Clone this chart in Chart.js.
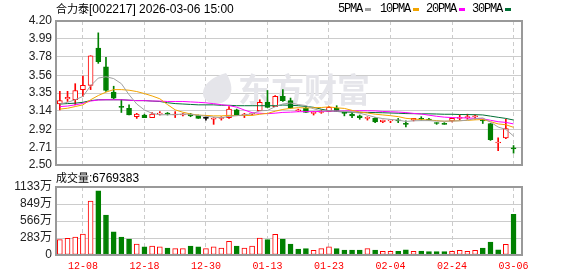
<!DOCTYPE html>
<html>
<head>
<meta charset="utf-8">
<script src="https://cdn.jsdelivr.net/npm/chart.js@4.4.1/dist/chart.umd.min.js"></script>
<style>
  body { margin: 0; width: 578px; height: 276px; background: #fff; position: relative; overflow: hidden; }
  canvas { position: absolute; left: 0; }
  .lbl { position: absolute; white-space: nowrap; color: #000; font-size: 12px; line-height: 14px; }
  .mono { font-family: "Liberation Mono", monospace; letter-spacing: -1.2px; }
  .cjk { font-family: "Noto Sans CJK SC", sans-serif; font-size: 11px; }
  .sans { font-family: "Liberation Sans", Arial, sans-serif; }
  .sw { position: absolute; width: 6px; height: 3px; }
</style>
</head>
<body>
<canvas id="kc" width="578" height="182" style="top:0"></canvas>
<canvas id="vc" width="578" height="111" style="top:165px"></canvas>

<div class="lbl" style="left:56px;top:1px"><span class="cjk">合力泰</span><span class="sans">[002217] 2026-03-06 15:00</span></div>

<div class="lbl mono" style="left:338px;top:2px">5PMA</div>
<div class="sw" style="left:365px;top:8px;background:#a0a0a0"></div>
<div class="lbl mono" style="left:380px;top:2px">10PMA</div>
<div class="sw" style="left:413px;top:8px;background:#f2a400"></div>
<div class="lbl mono" style="left:426px;top:2px">20PMA</div>
<div class="sw" style="left:459px;top:8px;background:#ff00ff"></div>
<div class="lbl mono" style="left:472px;top:2px">30PMA</div>
<div class="sw" style="left:505px;top:8px;background:#006f35"></div>

<div class="lbl" style="left:56px;top:170px"><span class="cjk">成交量</span><span class="sans" id="volTxt"></span></div>

<script>
// trading days shown on the chart
const dates = ['12-03','12-04','12-05','12-08','12-09','12-10','12-11','12-12','12-15','12-16',
  '12-17','12-18','12-19','12-22','12-23','12-24','12-25','12-26','12-29','12-30',
  '12-31','01-05','01-06','01-07','01-08','01-09','01-12','01-13','01-14','01-15',
  '01-16','01-19','01-20','01-21','01-22','01-23','01-26','01-27','01-28','01-29',
  '01-30','02-02','02-03','02-04','02-05','02-06','02-09','02-10','02-11','02-12',
  '02-13','02-24','02-25','02-26','02-27','03-02','03-03','03-04','03-05','03-06'];

const open = [3.22,3.28,3.27,3.39,3.44,3.88,3.66,3.36,3.19,3.17,
  3.07,3.09,3.06,3.10,3.11,3.09,3.09,3.10,3.09,3.05,
  3.04,3.05,3.06,3.15,3.09,3.10,3.14,3.24,3.19,3.31,
  3.26,3.14,3.17,3.11,3.12,3.13,3.17,3.12,3.10,3.08,
  3.05,3.05,3.01,3.02,3.03,2.99,3.03,3.05,3.04,3.00,
  2.99,3.02,3.05,3.06,3.07,3.03,2.99,2.76,2.82,2.70];
const high = [3.37,3.37,3.46,3.55,3.79,4.06,3.77,3.43,3.27,3.21,
  3.11,3.10,3.12,3.13,3.12,3.13,3.11,3.11,3.09,3.07,
  3.06,3.07,3.19,3.16,3.11,3.11,3.27,3.38,3.32,3.39,
  3.29,3.16,3.18,3.13,3.15,3.19,3.20,3.12,3.12,3.09,
  3.07,3.06,3.03,3.03,3.05,3.02,3.05,3.07,3.05,3.00,
  3.00,3.05,3.09,3.10,3.09,3.04,2.99,2.82,3.04,2.73];
const low = [3.15,3.25,3.21,3.31,3.39,3.70,3.37,3.28,3.12,3.09,
  3.05,3.06,3.06,3.09,3.09,3.06,3.08,3.07,3.05,3.03,
  2.98,3.03,3.05,3.09,3.06,3.09,3.14,3.18,3.19,3.25,
  3.17,3.13,3.12,3.09,3.11,3.13,3.13,3.08,3.06,3.04,
  3.03,3.00,3.00,3.00,3.00,2.95,3.02,3.03,3.03,2.98,
  2.98,3.01,3.03,3.04,3.04,2.99,2.79,2.67,2.81,2.64];
const close = [3.26,3.30,3.38,3.44,3.79,3.72,3.38,3.29,3.18,3.09,
  3.10,3.06,3.10,3.11,3.10,3.10,3.10,3.08,3.05,3.05,
  3.05,3.06,3.16,3.09,3.10,3.11,3.24,3.18,3.31,3.26,
  3.17,3.15,3.12,3.12,3.13,3.18,3.13,3.11,3.08,3.06,
  3.06,3.01,3.03,3.03,3.02,2.98,3.05,3.04,3.03,2.99,
  2.98,3.05,3.06,3.07,3.08,3.02,2.80,2.77,2.93,2.69];
const volume = [2550000,2770000,3000000,3500000,9000000,10700000,6660000,3880000,3000000,2660000,
  1830000,1380000,1500000,1380000,1170000,1050000,1050000,1500000,1380000,1050000,
  1380000,1170000,2280000,1500000,1170000,1500000,2830000,2550000,3440000,2660000,
  1830000,1000000,1050000,780000,1050000,1380000,1050000,830000,830000,830000,
  1050000,830000,610000,610000,610000,880000,610000,670000,550000,550000,
  550000,610000,780000,610000,780000,1170000,2160000,880000,1780000,6769383];

const ma5 = [3.22,3.24,3.27,3.31,3.434,3.526,3.542,3.52,3.46,3.33,
  3.22,3.15,3.11,3.092,3.094,3.094,3.102,3.098,3.086,3.076,
  3.066,3.058,3.074,3.082,3.092,3.104,3.140,3.144,3.188,3.220,
  3.232,3.214,3.202,3.164,3.138,3.140,3.136,3.134,3.126,3.112,
  3.088,3.064,3.048,3.038,3.030,3.014,3.022,3.024,3.024,3.018,
  3.018,3.018,3.022,3.030,3.048,3.056,3.006,2.948,2.920,2.842];
const ma10 = [3.16,3.17,3.19,3.21,3.27,3.32,3.36,3.39,3.39,3.383,
  3.367,3.343,3.315,3.282,3.213,3.151,3.123,3.102,3.089,3.085,
  3.080,3.080,3.086,3.084,3.084,3.085,3.099,3.109,3.135,3.156,
  3.168,3.177,3.173,3.176,3.179,3.186,3.175,3.168,3.145,3.125,
  3.114,3.100,3.091,3.082,3.071,3.051,3.043,3.036,3.031,3.024,
  3.016,3.020,3.023,3.027,3.033,3.037,3.012,2.985,2.975,2.945];
const ma20 = [3.19,3.196,3.21,3.228,3.255,3.267,3.27,3.27,3.27,3.265,
  3.26,3.26,3.255,3.255,3.25,3.25,3.25,3.245,3.24,3.234,
  3.224,3.212,3.201,3.183,3.149,3.118,3.111,3.106,3.112,3.121,
  3.124,3.129,3.130,3.130,3.132,3.136,3.137,3.139,3.140,3.141,
  3.141,3.139,3.132,3.129,3.125,3.119,3.109,3.102,3.088,3.075,
  3.065,3.060,3.057,3.055,3.052,3.044,3.028,3.011,3.003,2.985];
const ma30 = [3.22,3.225,3.23,3.24,3.26,3.27,3.27,3.27,3.27,3.265,
  3.26,3.26,3.255,3.25,3.235,3.225,3.22,3.215,3.21,3.21,
  3.21,3.205,3.205,3.20,3.20,3.20,3.20,3.20,3.20,3.208,
  3.205,3.200,3.191,3.181,3.159,3.141,3.132,3.126,3.123,3.122,
  3.121,3.119,3.117,3.114,3.111,3.107,3.106,3.104,3.104,3.102,
  3.099,3.099,3.096,3.095,3.094,3.091,3.077,3.063,3.050,3.031];

const priceTicks = [2.50, 2.71, 2.92, 3.14, 3.35, 3.56, 3.78, 3.99, 4.20];
const volTicks = [0, 2830000, 5660000, 8490000, 11330000];
const volTickLabels = ['0', '283万', '566万', '849万', '1133万'];
const dateTickIdx = [3, 11, 19, 27, 35, 43, 51, 59];

const RED = '#ff0000';
const GREEN = '#008000';

Chart.defaults.font.family = '"Liberation Sans", "Noto Sans CJK SC", sans-serif';
Chart.defaults.animation = false;

document.getElementById('volTxt').textContent = ':' + volume[volume.length - 1];

function candleColor(i) {
  if (close[i] > open[i]) return RED;
  if (close[i] < open[i]) return GREEN;
  const prev = i > 0 ? close[i - 1] : open[i];
  if (close[i] > prev) return RED;
  if (close[i] < prev) return GREEN;
  return '#000000';
}
function volUp(i) {
  return i === 0 || close[i] >= close[i - 1];
}

const idx = dates.map((d, i) => i);

// gray frame around the plot area
const framePlugin = {
  id: 'frame',
  afterDatasetsDraw(chart) {
    const a = chart.chartArea;
    const ctx = chart.ctx;
    ctx.save();
    ctx.strokeStyle = '#999999';
    ctx.lineWidth = 2;
    ctx.strokeRect(a.left, a.top, a.right - a.left, a.bottom - a.top);
    ctx.restore();
  }
};

const watermarkPlugin = {
  id: 'watermark',
  beforeDatasetsDraw(chart) {
    const ctx = chart.ctx;
    ctx.save();
    ctx.fillStyle = '#e5e5ea';
    // swoosh logo
    ctx.beginPath();
    ctx.moveTo(226, 73);
    ctx.bezierCurveTo(200, 80, 196, 100, 214, 104);
    ctx.bezierCurveTo(232, 104, 236, 88, 226, 73);
    ctx.fill();
    ctx.font = 'bold 33px "Noto Sans CJK SC"';
    ctx.textBaseline = 'middle';
    ctx.fillText('东方财富', 238, 89);
    ctx.restore();
  }
};

const xCommon = {
  type: 'linear',
  min: -0.5,
  max: 60.1,
  offset: false,
  afterBuildTicks: s => { s.ticks = dateTickIdx.map(v => ({ value: v })); },
  grid: { color: '#cccccc', lineWidth: 1, drawTicks: false, offset: false },
  border: { display: false, dash: [4, 3] }
};

new Chart(document.getElementById('kc'), {
  type: 'bar',
  data: {
    datasets: [
      { type: 'line', data: idx.map(i => ({ x: i, y: ma5[i] })), borderColor: '#a0a0a0', borderWidth: 1, pointRadius: 0, order: 0 },
      { type: 'line', data: idx.map(i => ({ x: i, y: ma10[i] })), borderColor: '#f2a400', borderWidth: 1, pointRadius: 0, order: 0 },
      { type: 'line', data: idx.map(i => ({ x: i, y: ma20[i] })), borderColor: '#ff00ff', borderWidth: 1, pointRadius: 0, order: 0 },
      { type: 'line', data: idx.map(i => ({ x: i, y: ma30[i] })), borderColor: '#006f35', borderWidth: 1, pointRadius: 0, order: 0 },
      {
        data: idx.map(i => ({ x: i, y: [open[i], close[i]] })),
        backgroundColor: idx.map(i => close[i] > open[i] ? '#ffffff' : candleColor(i)),
        borderColor: idx.map(i => candleColor(i)),
        borderWidth: 1, borderSkipped: false, barThickness: 5, minBarLength: 1, grouped: false, order: 1
      },
      {
        data: idx.map(i => ({ x: i, y: [low[i], high[i]] })),
        backgroundColor: idx.map(i => candleColor(i)),
        borderWidth: 0, barThickness: 1, grouped: false, order: 2
      }
    ]
  },
  options: {
    responsive: false,
    layout: { padding: { left: 0, right: 56, top: 21, bottom: 17 } },
    plugins: { legend: { display: false }, tooltip: { enabled: false } },
    scales: {
      x: Object.assign({}, xCommon, {
        ticks: { display: false },
        afterFit: s => { s.height = 0; }
      }),
      y: {
        min: 2.50, max: 4.20,
        afterBuildTicks: s => { s.ticks = priceTicks.map(v => ({ value: v })); },
        afterFit: s => { s.width = 56; },
        ticks: { color: '#222222', font: { size: 12 }, padding: 4, autoSkip: false, callback: v => v.toFixed(2) },
        grid: { color: '#cccccc', lineWidth: 1, drawTicks: false },
        border: { display: false }
      }
    }
  },
  plugins: [watermarkPlugin, framePlugin]
});

new Chart(document.getElementById('vc'), {
  type: 'bar',
  data: {
    datasets: [{
      data: idx.map(i => ({ x: i, y: volume[i] })),
      backgroundColor: idx.map(i => volUp(i) ? '#ffffff' : GREEN),
      borderColor: idx.map(i => volUp(i) ? RED : GREEN),
      borderWidth: 1, borderSkipped: false, barThickness: 5, grouped: false
    }]
  },
  options: {
    responsive: false,
    layout: { padding: { left: 0, right: 56, top: 22, bottom: 0 } },
    plugins: { legend: { display: false }, tooltip: { enabled: false } },
    scales: {
      x: Object.assign({}, xCommon, {
        ticks: {
          color: RED, padding: 5, maxRotation: 0, autoSkip: false,
          font: { family: '"Liberation Mono", monospace', size: 10 },
          callback: v => dates[v]
        },
        afterFit: s => { s.height = 21; }
      }),
      y: {
        min: 0, max: 11330000,
        afterBuildTicks: s => { s.ticks = volTicks.map(v => ({ value: v })); },
        afterFit: s => { s.width = 56; },
        ticks: { color: '#222222', font: { size: 12 }, padding: 4, autoSkip: false, callback: v => volTickLabels[volTicks.indexOf(v)] },
        grid: { color: '#cccccc', lineWidth: 1, drawTicks: false },
        border: { display: false }
      }
    }
  },
  plugins: [framePlugin]
});
</script>
</body>
</html>
